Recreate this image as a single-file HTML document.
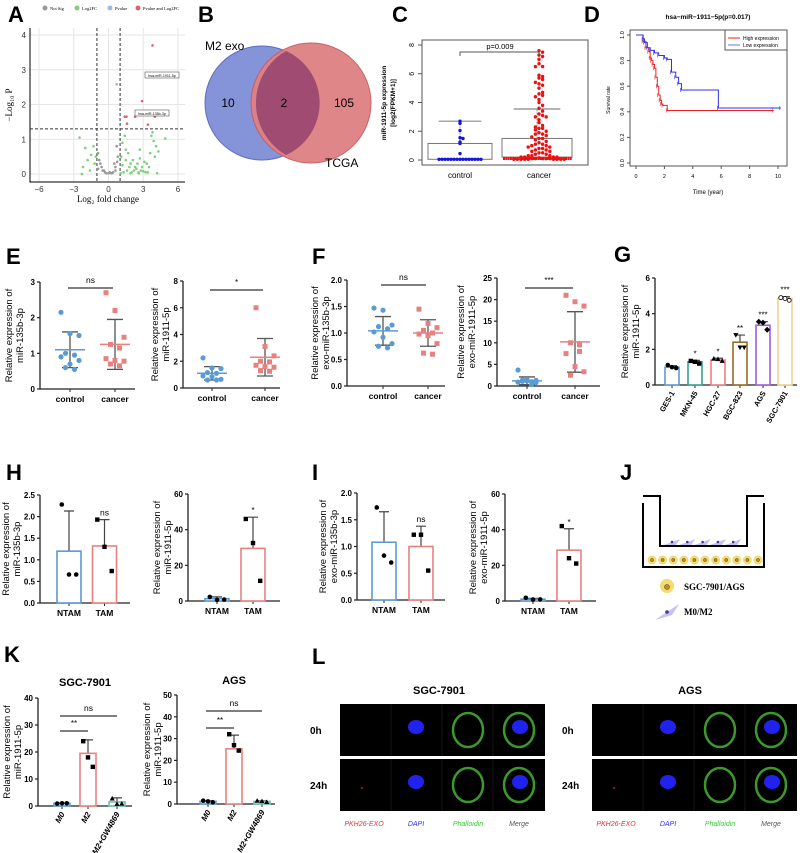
<!DOCTYPE html>
<html><head><meta charset="utf-8"><style>
html,body{margin:0;padding:0;background:#fff}
svg{display:block;font-family:"Liberation Sans",Arial,sans-serif}
</style></head><body>
<svg id="fig" width="800" height="853" viewBox="0 0 800 853" xmlns="http://www.w3.org/2000/svg">
<g font-weight="bold" font-size="22" fill="#000">
<text x="8" y="22">A</text>
<text x="198" y="22">B</text>
<text x="392" y="22">C</text>
<text x="584" y="22">D</text>
<text x="6" y="264">E</text>
<text x="312" y="264">F</text>
<text x="614" y="262">G</text>
<text x="6" y="480">H</text>
<text x="312" y="480">I</text>
<text x="620" y="480">J</text>
<text x="4" y="662">K</text>
<text x="312" y="664">L</text>
</g>
<g>
<circle cx="262" cy="103" r="57" fill="#7f8fd6" stroke="#5566c0" stroke-width="1" opacity="0.95"/>
<circle cx="311" cy="103" r="60" fill="#de8082" stroke="#c85a60" stroke-width="1" opacity="0.95"/>
<path d="M286,51 A57,57 0 0 1 286,155 A60,60 0 0 1 286,51 Z" fill="#a04c72"/>
<text x="205" y="50" font-size="12">M2 exo</text>
<text x="325" y="167" font-size="12">TCGA</text>
<text x="228" y="107" font-size="12" text-anchor="middle">10</text>
<text x="284" y="107" font-size="12" text-anchor="middle">2</text>
<text x="344" y="107" font-size="12" text-anchor="middle">105</text>
</g>
<g stroke="#000" stroke-width="2" fill="none">
<path d="M643,496 H660 V546 H747 V496 H764"/>
<path d="M643,503 V567 H764 V503"/>
</g>
<g id="jcells"></g>
<text x="684" y="590" font-family="Liberation Serif,serif" font-weight="bold" font-size="9">SGC-7901/AGS</text>
<text x="684" y="615" font-family="Liberation Serif,serif" font-weight="bold" font-size="9">M0/M2</text>
<g id="charts"></g>
</svg>
<script>
const NS='http://www.w3.org/2000/svg';
const root=document.getElementById('charts');
function mk(tag,attrs,parent,txt){const e=document.createElementNS(NS,tag);for(const k in attrs)e.setAttribute(k,attrs[k]);if(txt!==undefined)e.textContent=txt;(parent||root).appendChild(e);return e;}
function lin(d0,d1,r0,r1){return v=>r0+(v-d0)*(r1-r0)/(d1-d0);}

const volcNotSigX=[-0.9,-0.7,-0.5,-0.3,0,0.2,0.4,0.6,0.8,-0.8,-0.6,-0.4,0.5,0.7,-0.2,0.1,0.3,0.6,-0.9,0.75];
const volcNotSigY=[0.6,0.3,0.1,0.05,0.02,0.03,0.05,0.2,0.5,0.4,0.2,0.1,0.3,0.8,0.02,0.05,0.02,0.1,0.15,0.35];
const volcFcX=[-2.5,-2.3,-2,-1.8,-1.5,-1.3,-1.2,-1.1,-2.2,-1.6,1.1,1.2,1.4,1.5,1.7,1.9,2.1,2.3,2.5,2.7,2.9,3.1,3.3,3.5,3.7,3.9,4.1,4.3,4.9,1.3,1.6,1.8,2.0,2.2,2.4,2.6,2.8,3.0,3.2,3.8,4.0,1.2,1.5,2.7,3.6,1.05,1.9,2.6,3.4,4.2];
const volcFcY=[1.05,0.0,0.75,0.4,0.55,0.8,0.3,0.5,0.2,0.1,0.5,0.9,1.1,0.7,0.6,0.3,0.4,0.2,0.3,0.45,0.2,0.35,0.3,0.2,1.1,0.95,0.8,0.65,1.02,0.05,0.1,0.2,0.05,0.1,0.15,0.05,0.1,0.08,0.05,1.2,0.5,0.25,0.4,0.7,0.6,0.02,0.02,0.02,0.05,0.02];
const volcPX=[0.7];const volcPY=[2.58];
const volcBothX=[3.8,2.9,1.4,1.55,2.3,4.0,1.6,3.4];
const volcBothY=[3.7,2.1,1.65,1.65,1.65,1.65,1.45,1.42];
const volcXTicks=[-6,-3,0,3,6];const volcYTicks=[0,1,2,3,4];
(function(){
 const g=mk('g',{});
 const X=lin(-6,6,39,178),Y=lin(0,4,174,35);
 volcXTicks.forEach(t=>{const l=mk('line',{x1:X(t),x2:X(t),y1:28,y2:182,stroke:'#e6e6e6','stroke-width':1},g);
  const tx=mk('text',{x:X(t),y:192,'font-size':8,'text-anchor':'middle',fill:'#333'},g,String(t).replace('-','−'));});
 volcYTicks.forEach(t=>{const l=mk('line',{x1:30,x2:185,y1:Y(t),y2:Y(t),stroke:'#e6e6e6'},g);
  const tx=mk('text',{x:26,y:Y(t)+3,'font-size':8,'text-anchor':'end',fill:'#333'},g,t);});
 const ax=mk('path',{d:'M30,28 V182 H185',stroke:'#000',fill:'none'},g);
 [[-1],[1]].forEach(v=>{const l=mk('line',{x1:X(v[0]),x2:X(v[0]),y1:28,y2:182,stroke:'#333','stroke-dasharray':'3,2'},g);});
 const hl=mk('line',{x1:30,x2:185,y1:Y(1.3),y2:Y(1.3),stroke:'#333','stroke-dasharray':'3,2'},g);
 function pts(xs,ys,c,n){xs.forEach((x,i)=>{const p=mk('circle',{cx:X(x),cy:Y(ys[i]),r:1.3,fill:c},g);});}
 pts(volcNotSigX,volcNotSigY,'#999','point-notsig');pts(volcFcX,volcFcY,'#7fcf7f','point-log2fc');pts(volcPX,volcPY,'#9fb6ee','point-pvalue');pts(volcBothX,volcBothY,'#e06070','point-both');
 [[145,72,'hsa-miR-1911-5p'],[135,110,'hsa-miR-135b-3p']].forEach(a=>{const r=mk('rect',{x:a[0],y:a[1],width:34,height:6,fill:'#fff',stroke:'#333','stroke-width':0.5},g);
  const t=mk('text',{x:a[0]+17,y:a[1]+5,'font-size':3.6,'text-anchor':'middle'},g,a[2]);});
 const xl=mk('text',{x:108,y:202,'font-size':9,'text-anchor':'middle','font-family':'Liberation Serif,serif'},g,'Log₂ fold change');
 const yl=mk('text',{transform:'translate(12,105) rotate(-90)','font-size':9,'text-anchor':'middle','font-family':'Liberation Serif,serif'},g,'−Log₁₀ P');
 [['#999','Not Sig',45],['#7fcf7f','Log2FC',77],['#9fb6ee','Pvalue',110],['#e06070','Pvalue and Log2FC',138]].forEach(l=>{const c=mk('circle',{cx:l[2],cy:8,r:2.5,fill:l[0]},g);
  const t=mk('text',{x:l[2]+5,y:10,'font-size':4.5,'font-family':'Liberation Serif,serif'},g,l[1]);});
})();

const cControl=[2.7,2.55,2.05,1.55,1.5,1.25,1.15,0.45,0.05,0.05,0.05,0.05,0.05,0.05,0.05,0.05,0.05,0.05,0.05,0.05,0.05,0.05,0.05];
const cCancer=[7.6,7.5,7.3,7.2,7.0,6.7,6.5,6.5,5.9,5.8,5.7,5.6,5.4,5.3,5.2,5.0,4.7,4.6,4.5,4.4,4.2,4.0,3.8,3.6,3.4,3.2,3.1,3.0,3.0,2.8,2.6,2.4,2.3,2.2,2.2,2.1,2.0,1.9,1.8,1.8,1.7,1.6,1.5,1.5,1.4,1.3,1.2,1.1,1.1,1.0,1.0,0.9,0.9,0.8,0.8,0.7,0.7,0.6,0.6,0.5,0.5,0.4,0.4,0.3,0.3,0.3,0.2,0.2,0.2,0.2,0.15,0.1,0.1,0.1,0.1,0.1,0.05,0.05,0.05,0.05,0.05,0.05,0.05,0.05,0.05];
const cBoxControl=[0.05,1.15,2.7];const cBoxCancer=[0.2,1.5,3.55];
const cYTicks=[0,2,4,6,8];
(function(){
 const g=mk('g',{});
 const Y=lin(0,8,160,45);
 const fr=mk('rect',{x:422,y:40,width:166,height:125,fill:'none',stroke:'#555'},g);
 cYTicks.forEach(t=>{const l=mk('line',{x1:418,x2:422,y1:Y(t),y2:Y(t),stroke:'#555'},g);
  const tx=mk('text',{transform:`translate(414,${Y(t)}) rotate(-90)`,'font-size':7,'text-anchor':'middle'},g,t);});
 function box(cx,w,b,n){const r=mk('rect',{x:cx-w/2,y:Y(b[1]),width:w,height:Y(b[0])-Y(b[1]),fill:'none',stroke:'#777'},g);
  const l=mk('line',{x1:cx,x2:cx,y1:Y(b[1]),y2:Y(b[2]),stroke:'#999','stroke-dasharray':'2,1'},g);
  const c=mk('line',{x1:cx-w/3,x2:cx+w/3,y1:Y(b[2]),y2:Y(b[2]),stroke:'#888','stroke-width':1.2},g);}
 box(460,64,cBoxControl,'control');box(537,70,cBoxCancer,'cancer');
 function swarm(vals,cx,col,n,bucket,step){const rows={};vals.forEach(v=>{const k=Math.round(Y(v)/bucket);rows[k]=(rows[k]||0)+1;const i=rows[k]-1;const off=(i%2?1:-1)*Math.ceil(i/2)*step;
  const p=mk('circle',{cx:cx+off,cy:Y(v),r:1.7,fill:col},g);});}
 swarm(cControl,460,'#1515e0','control',3,3);swarm(cCancer,539,'#ee1010','cancer',5,3.6);
 for(let i=0;i<30;i++){const p=mk('rect',{x:503+i*2.3,y:Y(0.22),width:2,height:Y(0)-Y(0.22),fill:'#ee1010'},g);}
 const br=mk('path',{d:`M460,56 V52 H539 V56`,fill:'none',stroke:'#555'},g);
 const pt=mk('text',{x:500,y:49,'font-size':7.5,'text-anchor':'middle'},g,'p=0.009');
 [['control',460],['cancer',539]].forEach(c=>{const t=mk('text',{x:c[1],y:178,'font-size':8,'text-anchor':'middle'},g,c[0]);});
 const y1=mk('text',{transform:'translate(386,103) rotate(-90)','font-size':6.5,'font-weight':'bold','text-anchor':'middle'},g,'miR-1911-5p expression');
 const y2=mk('text',{transform:'translate(395,103) rotate(-90)','font-size':6.5,'font-weight':'bold','text-anchor':'middle'},g,'[log2(FPKM+1)]');
})();

const kmHighT=[0,0.5,0.7,0.9,1.0,1.1,1.2,1.3,1.4,1.5,1.6,1.7,1.8,1.9,2.2,9.7];
const kmHighS=[1,0.95,0.9,0.87,0.82,0.8,0.77,0.74,0.67,0.6,0.53,0.49,0.46,0.45,0.41,0.41];
const kmLowT=[0,0.5,0.6,0.8,1.0,1.3,1.6,2.0,2.2,2.5,2.8,3.0,3.2,5.8,10.2];
const kmLowS=[1,0.97,0.94,0.9,0.88,0.86,0.84,0.82,0.81,0.71,0.67,0.62,0.57,0.43,0.43];
const kmXTicks=[0,2,4,6,8,10];const kmYTicks=[0,0.2,0.4,0.6,0.8,1.0];
(function(){
 const g=mk('g',{});
 const X=lin(0,10,636,778),Y=lin(0,1,163,35);
 const fr=mk('rect',{x:630,y:30,width:157,height:136,fill:'none',stroke:'#555'},g);
 kmXTicks.forEach(t=>{const tx=mk('text',{x:X(t),y:178,'font-size':5.5,'text-anchor':'middle'},g,t);
  const l=mk('line',{x1:X(t),x2:X(t),y1:166,y2:169,stroke:'#555'},g);});
 kmYTicks.forEach(t=>{const tx=mk('text',{transform:`translate(624,${Y(t)}) rotate(-90)`,'font-size':5.5,'text-anchor':'middle'},g,t.toFixed(1));
  const l=mk('line',{x1:627,x2:630,y1:Y(t),y2:Y(t),stroke:'#555'},g);});
 function step(T,S,col,n){let d=`M${X(T[0])},${Y(S[0])}`;for(let i=1;i<T.length;i++)d+=` H${X(T[i])} V${Y(S[i])}`;
  const p=mk('path',{d:d,fill:'none',stroke:col,'stroke-width':1},g);
  for(let i=1;i<T.length;i++){const c=mk('line',{x1:X(T[i])-1,x2:X(T[i])-1,y1:Y(S[i])-2,y2:Y(S[i])+2,stroke:col,'stroke-width':0.6},g);}}
 step(kmHighT,kmHighS,'#ee2020','high-expression-curve');step(kmLowT,kmLowS,'#3030ee','low-expression-curve');
 const lg=mk('rect',{x:725,y:30,width:62,height:20,fill:'#fff',stroke:'#555'},g);
 [['#ee2020','High expression',38],['#7070ee','Low expression',45]].forEach(l=>{const a=mk('line',{x1:728,x2:740,y1:l[2],y2:l[2],stroke:l[0]},g);
  const t=mk('text',{x:743,y:l[2]+2,'font-size':5},g,l[1]);});
 const ti=mk('text',{x:708,y:19,'font-size':6.5,'font-weight':'bold','text-anchor':'middle'},g,'hsa−miR−1911−5p(p=0.017)');
 const xl=mk('text',{x:708,y:194,'font-size':6,'text-anchor':'middle'},g,'Time (year)');
 const yl=mk('text',{transform:'translate(610,100) rotate(-90)','font-size':5,'text-anchor':'middle'},g,'Survival rate');
})();

function axisFrame(g,c){
 const Y=lin(0,c.max,c.yb,c.yt);
 const a=mk('path',{d:`M${c.x0},${c.yt} V${c.yb} H${c.x1}`,fill:'none',stroke:'#222','stroke-width':1.3},g);
 c.ticks.forEach((t,i)=>{const l=mk('line',{x1:c.x0-3,x2:c.x0,y1:Y(t),y2:Y(t),stroke:'#222','stroke-width':1.2},g);
  const tx=mk('text',{x:c.x0-5,y:Y(t)+3,'font-size':8,'font-weight':'bold','text-anchor':'end'},g,c.tickLabels[i]);});
 const my=(c.yt+c.yb)/2;
 c.title.forEach((s,i)=>{const t=mk('text',{transform:`translate(${c.tx+i*11},${my}) rotate(-90)`,'font-size':9.5,'text-anchor':'middle'},g,s);});
 c.cats.forEach((s,i)=>{const l=mk('line',{x1:c.cx[i],x2:c.cx[i],y1:c.yb,y2:c.yb+3,stroke:'#222'},g);
  let t;if(c.rot){t=mk('text',{transform:`translate(${c.cx[i]+3},${c.yb+8}) rotate(-60)`,'font-size':c.rotSize||8,'font-weight':'bold','font-style':c.italic?'italic':'normal','text-anchor':'end'},g,s);}
  else t=mk('text',{x:c.cx[i],y:c.yb+13,'font-size':8.5,'font-weight':'bold','text-anchor':'middle'},g,s);
  });
 return Y;}
function sig(g,x1,x2,y,label){const l=mk('line',{x1:x1,x2:x2,y1:y,y2:y,stroke:'#333','stroke-width':1.3},g);
 const t=mk('text',{x:(x1+x2)/2,y:y-5,'font-size':label==='ns'?8.5:8,'text-anchor':'middle'},g,label);}

const e1Control=[2.15,1.55,1.5,1.0,0.95,0.9,0.7,0.8,0.6,0.55];const e1Cancer=[2.7,2.2,1.45,1.25,1.15,0.85,0.8,0.78,0.7,0.65];
const e1Stats=[[1.1,0.5],[1.25,0.7]];
const e2Control=[2.25,1.5,1.45,1.15,1.1,0.9,0.85,0.65,0.6,0.6];const e2Cancer=[6.0,3.1,2.4,2.0,1.95,1.7,1.6,1.55,1.3,1.25];
const e2Stats=[[1.1,0.5],[2.3,1.4]];
const f1Control=[1.47,1.43,1.15,1.12,1.08,1.02,0.92,0.8,0.75,0.72];const f1Cancer=[1.45,1.18,1.1,1.05,1.0,0.98,0.95,0.8,0.62,0.6];
const f1Stats=[[1.04,0.27],[1.0,0.25]];
const f2Control=[3.7,1.5,1.3,1.1,1.0,0.9,1.2,0.8,1.4,0.3];const f2Cancer=[21,19.5,18.5,10,8,7.5,4.5,3.3,2.5,9.5];
const f2Stats=[[1.2,0.9],[10.2,7.0]];
const ticksE1=[0,1,2,3],ticksE2=[0,2,4,6,8],ticksF1=[0,0.5,1.0,1.5,2.0],ticksF2=[0,5,10,15,20,25];
function dotPlot(name,c,ctrl,canc,stats,sigLabel,sigY){
 const g=mk('g',{});
 const Y=axisFrame(g,c);
 [[ctrl,'#5b9bd5',0,'control'],[canc,'#e88080',1,'cancer']].forEach(s=>{const cx=c.cx[s[2]];
  const st=stats[s[2]];
  const e=mk('path',{d:`M${cx-8},${Y(st[0]-st[1])} H${cx+8} M${cx},${Y(st[0]-st[1])} V${Y(st[0]+st[1])} M${cx-8},${Y(st[0]+st[1])} H${cx+8}`,stroke:'#555','stroke-width':1.3,fill:'none'},g);
  s[0].forEach((v,i)=>{const off=((i*7)%5-2)*4.5;let p;
   if(s[2]===0)p=mk('circle',{cx:cx+off,cy:Y(v),r:2.6,fill:s[1]},g);else p=mk('rect',{x:cx+off-2.5,y:Y(v)-2.5,width:5,height:5,fill:s[1]},g);
   });
  const m=mk('line',{x1:cx-15,x2:cx+15,y1:Y(st[0]),y2:Y(st[0]),stroke:s[1],'stroke-width':1.5},g);});
 sig(g,c.cx[0]-2,c.cx[1]-2,sigY,sigLabel);}
dotPlot('e-mir135b-plot',{x0:40,x1:135,yt:282,yb:389,max:3,ticks:ticksE1,tickLabels:ticksE1,cx:[70,115],cats:['control','cancer'],title:['Relative expression of','miR-135b-3p'],tx:12},e1Control,e1Cancer,e1Stats,'ns',288);
dotPlot('e-mir1911-plot',{x0:183,x1:280,yt:281,yb:388,max:8,ticks:ticksE2,tickLabels:ticksE2,cx:[212,265],cats:['control','cancer'],title:['Relative expression of','miR-1911-5p'],tx:158},e2Control,e2Cancer,e2Stats,'*',290);
dotPlot('f-exo-mir135b-plot',{x0:347,x1:445,yt:280,yb:386,max:2,ticks:ticksF1,tickLabels:['0.0','0.5','1.0','1.5','2.0'],cx:[383,428],cats:['control','cancer'],title:['Relative expression of','exo-miR-135b-3p'],tx:318},f1Control,f1Cancer,f1Stats,'ns',285);
dotPlot('f-exo-mir1911-plot',{x0:497,x1:600,yt:278,yb:386,max:25,ticks:ticksF2,tickLabels:ticksF2,cx:[527,575],cats:['control','cancer'],title:['Relative expression of','exo-miR-1911-5p'],tx:464},f2Control,f2Cancer,f2Stats,'***',288);

const gCats=['GES-1','MKN-45','HGC-27','BGC-823','AGS','SGC-7901'];
const gMeans=[1.0,1.3,1.4,2.4,3.35,4.85];const gErr=[0.08,0.08,0.1,0.4,0.2,0.1];
const gPoints=[[1.12,1.0,0.95],[1.35,1.3,1.2],[1.48,1.45,1.35],[2.8,2.1,2.1],[3.55,3.5,3.1],[4.9,4.85,4.75]];
const gSig=['','*','*','**','***','***'];
const gTicks=[0,2,4,6];
const h1Means=[1.2,1.32],h1Err=[0.93,0.61],h1Points=[[2.28,0.66,0.66],[1.93,1.3,0.74]];
const h2Means=[1.3,29.5],h2Err=[1.0,17.5],h2Points=[[2.3,0.6,0.8],[46,32.5,11.3]];
const i1Means=[1.08,1.0],i1Err=[0.57,0.38],i1Points=[[1.73,0.83,0.7],[1.22,1.22,0.55]];
const i2Means=[1.0,28.5],i2Err=[0.5,12],i2Points=[[1.8,0.8,0.9],[42,24,21]];
const k1Means=[1.0,19.5,1.5],k1Err=[0.1,5,1.5],k1Points=[[0.9,1.0,1.0],[24,18,14.5],[2.8,0.8,0.9]];
const k2Means=[1.2,25.3,1.2],k2Err=[0.3,6.3,0.3],k2Points=[[1.5,1.2,0.8],[32,27,24.5],[1.5,1.3,0.9]];
const tamCats=['NTAM','TAM'],kCats=['M0','M2','M2+GW4869'];
const ticks25=[0,0.5,1.0,1.5,2.0,2.5],ticks60=[0,20,40,60],ticks20=[0,0.5,1.0,1.5,2.0],ticks40=[0,10,20,30,40],ticks50=[0,10,20,30,40,50];
function barPlot(name,c,means,err,pts,cols,marks,w){
 const g=mk('g',{});
 const Y=axisFrame(g,c);
 means.forEach((m,i)=>{const cx=c.cx[i];
  const e=mk('path',{d:`M${cx},${Y(m)} V${Y(m+err[i])} M${cx-5},${Y(m+err[i])} H${cx+5}`,stroke:'#444','stroke-width':1.2,fill:'none'},g);
  const b=mk('rect',{x:cx-w/2,y:Y(m),width:w,height:c.yb-Y(m),fill:'#fff',stroke:cols[i],'stroke-width':1.6},g);
  pts[i].forEach((v,j)=>{const x=cx+(j-1)*w*0.3;const mk2=marks[i];let p;
   if(mk2==='c')p=mk('circle',{cx:x,cy:Y(v),r:2.3,fill:'#000'},g);
   else if(mk2==='s')p=mk('rect',{x:x-2.2,y:Y(v)-2.2,width:4.4,height:4.4,fill:'#000'},g);
   else if(mk2==='t')p=mk('path',{d:`M${x},${Y(v)-2.6} L${x+2.6},${Y(v)+2} L${x-2.6},${Y(v)+2} Z`,fill:'#000'},g);
   else if(mk2==='v')p=mk('path',{d:`M${x},${Y(v)+2.6} L${x+2.6},${Y(v)-2} L${x-2.6},${Y(v)-2} Z`,fill:'#000'},g);
   else if(mk2==='d')p=mk('path',{d:`M${x},${Y(v)-3} L${x+3},${Y(v)} L${x},${Y(v)+3} L${x-3},${Y(v)} Z`,fill:'#000'},g);
   else p=mk('circle',{cx:x,cy:Y(v),r:2,fill:'#fff',stroke:'#000','stroke-width':0.8},g);
   });
  if(c.sig&&c.sig[i]){const t=mk('text',{x:cx,y:Y(m+err[i])-4,'font-size':c.sig[i]==='ns'?8.5:8,'text-anchor':'middle'},g,c.sig[i]);}});
 return g;}
barPlot('g-cell-line-plot',{x0:655,x1:797,yt:278,yb:385,max:6,ticks:gTicks,tickLabels:gTicks,cx:[672,695,718,740,763,785],cats:gCats,title:['Relative expression of','miR-1911-5p'],tx:628,rot:true,rotSize:7.5,sig:gSig},gMeans,gErr,gPoints,['#5b9bd5','#3aa08a','#e88080','#9b6a20','#9b5fe0','#f0d090'],['c','s','t','v','d','o'],14);
barPlot('h-mir135b-plot',{x0:40,x1:130,yt:495,yb:603,max:2.5,ticks:ticks25,tickLabels:['0.0','0.5','1.0','1.5','2.0','2.5'],cx:[69,104.5],cats:tamCats,title:['Relative expression of','miR-135b-3p'],tx:9,sig:['','ns']},h1Means,h1Err,h1Points,['#5b9bd5','#e88080'],['c','s'],24);
barPlot('h-mir1911-plot',{x0:188,x1:280,yt:494,yb:601,max:60,ticks:ticks60,tickLabels:ticks60,cx:[217,253],cats:tamCats,title:['Relative expression of','miR-1911-5p'],tx:160,sig:['','*']},h2Means,h2Err,h2Points,['#5b9bd5','#e88080'],['c','s'],24);
barPlot('i-exo-mir135b-plot',{x0:357,x1:445,yt:493,yb:600,max:2,ticks:ticks20,tickLabels:['0.0','0.5','1.0','1.5','2.0'],cx:[384,421],cats:tamCats,title:['Relative expression of','exo-miR-135b-3p'],tx:326,sig:['','ns']},i1Means,i1Err,i1Points,['#5b9bd5','#e88080'],['c','s'],24);
barPlot('i-exo-mir1911-plot',{x0:505,x1:596,yt:494,yb:601,max:60,ticks:ticks60,tickLabels:ticks60,cx:[533,569],cats:tamCats,title:['Relative expression of','exo-miR-1911-5p'],tx:476,sig:['','*']},i2Means,i2Err,i2Points,['#5b9bd5','#e88080'],['c','s'],24);
const gk1=barPlot('k-sgc7901-plot',{x0:38,x1:132,yt:698,yb:806,max:40,ticks:ticks40,tickLabels:ticks40,cx:[62,88,117],cats:kCats,title:['Relative expression of','miR-1911-5p'],tx:10,rot:true,italic:true,rotSize:8},k1Means,k1Err,k1Points,['#5b9bd5','#e88080','#6fc0b0'],['c','s','t'],16);
sig(gk1,60,88,731,'**');sig(gk1,60,117,716,'ns');
const gk2=barPlot('k-ags-plot',{x0:177,x1:275,yt:695,yb:804,max:50,ticks:ticks50,tickLabels:ticks50,cx:[208,234,262],cats:kCats,title:['Relative expression of','miR-1911-5p'],tx:150,rot:true,italic:true,rotSize:8},k2Means,k2Err,k2Points,['#5b9bd5','#e88080','#6fc0b0'],['c','s','t'],16);
sig(gk2,206,234,728,'**');sig(gk2,206,262,711,'ns');
[['SGC-7901',85,686],['AGS',234,684],['SGC-7901',439,694],['AGS',690,694]].forEach(t=>{const e=mk('text',{x:t[1],y:t[2],'font-size':11,'font-weight':'bold','text-anchor':'middle'},root,t[0]);});

(function(){const g=document.getElementById('jcells');
 for(let i=0;i<11;i++){const x=652+i*10.6;const c=mk('circle',{cx:x,cy:560,r:4.5,fill:'#f0dc70'},g);
  const n=mk('circle',{cx:x,cy:560,r:1.6,fill:'#c88a20',stroke:'#333','stroke-width':0.4},g);}
 for(let i=0;i<5;i++){const x=672+i*15.3;const c=mk('path',{d:`M${x-8},${545} L${x+8},${539} L${x+4},${545} Z`,fill:'#c8c0f0'},g);
  const n=mk('circle',{cx:x,cy:542,r:1.3,fill:'#503090'},g);}
 const a=mk('circle',{cx:667,cy:586,r:7,fill:'#f0dc70'},g);
 const a2=mk('circle',{cx:667,cy:587,r:2.5,fill:'#d08a20',stroke:'#333','stroke-width':0.5},g);
 const b=mk('path',{d:'M655,620 L679,604 L672,615 Z',fill:'#c8c0f0'},g);
 const b2=mk('circle',{cx:667,cy:612,r:1.8,fill:'#503090'},g);
})();

(function(){
 [[340,'sgc'],[592,'ags']].forEach(p=>{const x0=p[0];
  [[704,'0h'],[759,'24h']].forEach((r,ri)=>{
   const bg=mk('rect',{x:x0,y:r[0],width:205,height:52,fill:'#000'});
   for(let k=1;k<4;k++){const l=mk('line',{x1:x0+k*51,x2:x0+k*51,y1:r[0],y2:r[0]+52,stroke:'#222','stroke-width':0.6});}
   const cy=r[0]+26;
   const dn=mk('ellipse',{cx:x0+76,cy:cy-3,rx:8,ry:7,fill:'#2222ee'});
   const ph=mk('ellipse',{cx:x0+128,cy:cy,rx:15,ry:17,fill:'none',stroke:'#3c9a2c','stroke-width':2.5});
   const mg=mk('ellipse',{cx:x0+179,cy:cy,rx:15,ry:17,fill:'none',stroke:'#3c9a2c','stroke-width':2.5});
   const mn=mk('ellipse',{cx:x0+180,cy:cy-3,rx:8,ry:7,fill:'#2222ee'});
   if(ri===1){const rd=mk('circle',{cx:x0+22,cy:cy+3,r:1,fill:'#c02020'});}
   const lb=mk('text',{x:x0-30,y:cy+4,'font-size':10,'font-weight':'bold'},root,r[1]);});
  [['PKH26-EXO','#ee3030',24],['DAPI','#3030ee',76],['Phalloidin','#33cc33',128],['Merge','#555',179]].forEach(t=>{const e=mk('text',{x:x0+t[2],y:826,'font-size':7,'font-style':'italic','text-anchor':'middle',fill:t[1]},root,t[0]);});
 });
})();
</script>
</body></html>
